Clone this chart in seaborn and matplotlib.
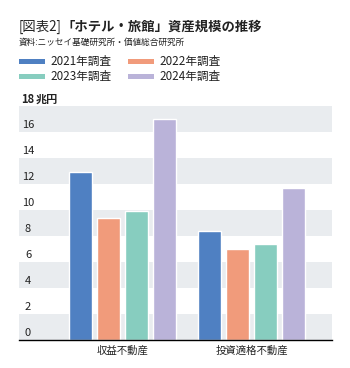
import matplotlib
matplotlib.use("Agg")
import matplotlib.pyplot as plt
from matplotlib.patches import Rectangle
import seaborn as sns
import pandas as pd

categories = ["収益不動産", "投資適格不動産"]
series = ["2021年調査", "2022年調査", "2023年調査", "2024年調査"]
values_2021 = [12.9, 8.4]
values_2022 = [9.4, 7.0]
values_2023 = [9.9, 7.4]
values_2024 = [17.0, 11.7]
y_ticks = [0, 2, 4, 6, 8, 10, 12, 14, 16, 18]
colors = ["#4F80C2", "#F19B7B", "#87CDBF", "#BAB3D9"]

sns.set_style("white")
plt.rcParams["font.family"] = ["Noto Sans CJK JP", "DejaVu Sans"]

rows = []
for s, vals in zip(series, [values_2021, values_2022, values_2023, values_2024]):
    for c, v in zip(categories, vals):
        rows.append({"cat": c, "series": s, "value": v})
df = pd.DataFrame(rows)

W, H = 350, 368
AX_L, AX_W = 19, 313
fig = plt.figure(figsize=(W / 100, H / 100), dpi=100)
ax = fig.add_axes([AX_L / W, (H - 340) / H, AX_W / W, 234 / H])

for lo in range(0, 18, 4):
    ax.axhspan(lo, lo + 2, color="#E9ECEF", zorder=0, lw=0)

sns.barplot(data=df, x="cat", y="value", hue="series", order=categories,
            hue_order=series, palette=colors, width=0.865, gap=0.18,
            saturation=1, ax=ax, legend=False, zorder=3)

ax.set_xlim(-0.8, 1.62)
ax.set_ylim(0, 18)
ax.set_yticks([])
ax.set_xlabel("")
ax.set_ylabel("")
for sp in ["top", "right", "left"]:
    ax.spines[sp].set_visible(False)
ax.spines["bottom"].set_color("black")
ax.spines["bottom"].set_linewidth(1.0)
ax.spines["bottom"].set_zorder(5)
ax.tick_params(axis="x", length=0, pad=4, labelsize=7.5, colors="#222222")

# y tick labels sitting above each gridline
trans = ax.get_yaxis_transform()
for t in y_ticks:
    ax.text((28 - AX_L) / AX_W, t + 0.5, str(t), transform=trans, ha="center",
            va="center", fontsize=8.0, color="#222222", zorder=6,
            fontweight="bold" if t == 18 else "normal", clip_on=False)
ax.text((35.5 - AX_L) / AX_W, 18 + 0.5, "兆円", transform=trans, ha="left",
        va="center", fontsize=8.0, fontweight="bold", color="#222222",
        zorder=6, clip_on=False)

# title
t1 = fig.text(19 / W, 1 - 27 / H, "[図表2]", fontsize=9.6, color="#222222",
              va="center", ha="left")
fig.canvas.draw()
bb = t1.get_window_extent()
fig.text(bb.x1 / W, 1 - 27 / H, "「ホテル・旅館」資産規模の推移", fontsize=9.6,
         fontweight="bold", color="#222222", va="center", ha="left")
fig.text(19 / W, 1 - 42.5 / H, "資料:ニッセイ基礎研究所・価値総合研究所",
         fontsize=6.2, color="#222222", va="center", ha="left")

# legend
pos = [(19, 61), (128, 61), (19, 76), (128, 76)]
for (px, py), s, c in zip(pos, series, colors):
    fig.patches.append(Rectangle((px / W, 1 - (py + 2.5) / H), 26 / W, 5 / H,
                                 transform=fig.transFigure, color=c, lw=0))
    fig.text((px + 31) / W, 1 - py / H, s, fontsize=8.4, color="#222222",
             va="center", ha="left")

fig.savefig("out.png", dpi=100)
